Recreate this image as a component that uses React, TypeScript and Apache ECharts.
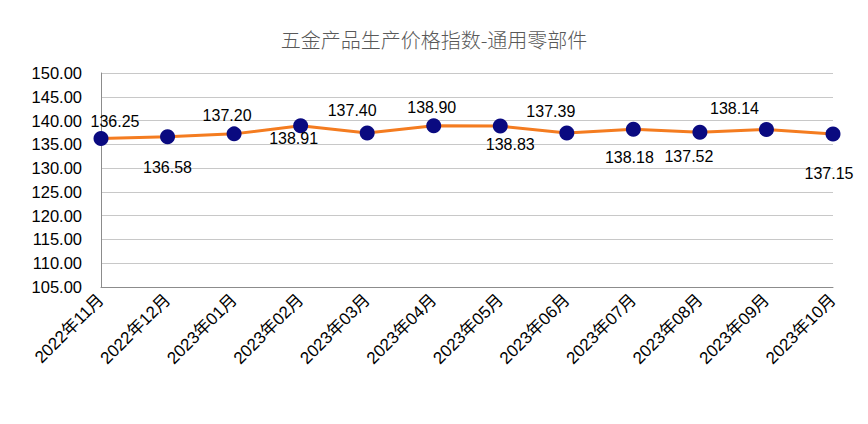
import React, { useEffect, useRef } from "react";
import * as echarts from "echarts";

const TITLE = "五金产品生产价格指数-通用零部件";
const categories = [
  "2022年11月", "2022年12月", "2023年01月", "2023年02月", "2023年03月", "2023年04月",
  "2023年05月", "2023年06月", "2023年07月", "2023年08月", "2023年09月", "2023年10月",
];
const values = [136.25, 136.58, 137.2, 138.91, 137.4, 138.9, 138.83, 137.39, 138.18, 137.52, 138.14, 137.15];
// label displacement from the point (px)
const labelOffsets: [number, number][] = [
  [14, -17], [0, 31], [-7, -18], [-7, 13], [-15, -22], [-2, -18],
  [10, 18], [-16, -21], [-4, 28], [-11, 24], [-32, -21], [-4, 39],
];

export default function App() {
  const ref = useRef<HTMLDivElement>(null);
  useEffect(() => {
    if (!ref.current) return;
    const chart = echarts.init(ref.current, undefined, { renderer: "svg" });
    chart.setOption({
      animation: false,
      backgroundColor: "#fff",
      title: {
        text: TITLE,
        left: "center",
        top: 16,
        textStyle: { fontFamily: "Noto Sans CJK SC", fontSize: 20, fontWeight: 300, color: "#595959" },
      },
      grid: { left: 93, right: 27, top: 65, bottom: 129 },
      xAxis: {
        type: "category",
        data: categories,
        boundaryGap: false,
        axisLine: { lineStyle: { color: "#8c8c8c", width: 1 } },
        axisTick: { show: false },
        axisLabel: {
          rotate: 45,
          interval: 0,
          color: "#000",
          fontSize: 17,
          fontFamily: "Liberation Sans, Noto Sans CJK SC",
          margin: 10,
        },
      },
      yAxis: {
        type: "value",
        min: 105,
        max: 150,
        interval: 5,
        axisLine: { show: true, lineStyle: { color: "#8c8c8c" } },
        axisTick: { show: false },
        splitLine: { lineStyle: { color: "#c8c8c8", width: 1 } },
        axisLabel: {
          formatter: (v: number) => v.toFixed(2),
          color: "#000",
          fontSize: 16.5,
          fontFamily: "Liberation Sans",
          margin: 19,
        },
      },
      series: [
        {
          type: "line",
          data: values.map((v, i) => ({
            value: v,
            label: {
              show: true,
              position: "inside",
              offset: labelOffsets[i],
            },
          })),
          lineStyle: { color: "#F47C20", width: 3 },
          itemStyle: { color: "#0A0A80" },
          symbol: "circle",
          symbolSize: 15,
          label: {
            show: true,
            formatter: (p: any) => Number(p.value).toFixed(2),
            color: "#000",
            fontSize: 16,
            fontFamily: "Liberation Sans",
          },
        },
      ],
    });
    return () => chart.dispose();
  }, []);
  return <div ref={ref} style={{ width: 852, height: 408 }} />;
}
